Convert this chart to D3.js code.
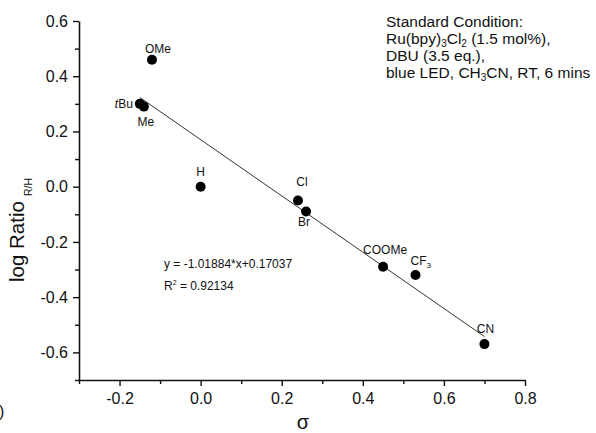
<!DOCTYPE html>
<html><head><meta charset="utf-8">
<script src="https://cdn.jsdelivr.net/npm/d3@7"></script>
<style>
html,body{margin:0;padding:0;background:#fff;}
svg{display:block;font-family:"Liberation Sans",Arial,sans-serif;}
</style></head>
<body>
<svg id="chart" width="596" height="433"></svg>
<script>
// ---- data ----
const substituents = ["OMe","tBu","Me","H","Cl","Br","COOMe","CF3","CN"];
const sigma        = [-0.12,-0.15,-0.14,0.00,0.24,0.26,0.45,0.53,0.70];
const logRatio     = [0.46,0.30,0.29,0.00,-0.05,-0.09,-0.29,-0.32,-0.57];
const fitSlope = -1.01884;
const fitIntercept = 0.17037;
const fitR2 = "0.92134";
const xMajorTicks = [-0.2,0.0,0.2,0.4,0.6,0.8];
const xMinorTicks = [-0.3,-0.1,0.1,0.3,0.5,0.7];
const yMajorTicks = [-0.6,-0.4,-0.2,0.0,0.2,0.4,0.6];
const yMinorTicks = [-0.7,-0.5,-0.3,-0.1,0.1,0.3,0.5];

// ---- layout (label offsets in px relative to each point) ----
const labelLayout = {
  OMe:{dx:6,dy:-7,anchor:"middle"},
  tBu:{dx:-7,dy:4,anchor:"end"},
  Me:{dx:2,dy:19,anchor:"middle"},
  H:{dx:0,dy:-11,anchor:"middle"},
  Cl:{dx:4,dy:-15,anchor:"middle"},
  Br:{dx:-2,dy:14,anchor:"middle"},
  COOMe:{dx:2,dy:-13,anchor:"middle"},
  CF3:{dx:-5,dy:-10,anchor:"start"},
  CN:{dx:1,dy:-11,anchor:"middle"}
};

const svg = d3.select("#chart");
const x = d3.scaleLinear().domain([-0.3,0.8]).range([79,525]);
const y = d3.scaleLinear().domain([-0.7,0.6]).range([380,21]);
const fmt = v => d3.format(".1f")(v).replace("\u2212","-");

// axes
const gx = svg.append("g").attr("transform","translate(0,380)");
gx.call(d3.axisBottom(x).tickValues(xMajorTicks).tickFormat(fmt).tickSize(6).tickPadding(7).tickSizeOuter(0));
gx.append("g").call(d3.axisBottom(x).tickValues(xMinorTicks).tickFormat("").tickSize(4).tickSizeOuter(0))
  .select(".domain").remove();
const gy = svg.append("g").attr("transform","translate(79,0)");
gy.call(d3.axisLeft(y).tickValues(yMajorTicks).tickFormat(fmt).tickSize(6).tickPadding(5).tickSizeOuter(0));
gy.append("g").call(d3.axisLeft(y).tickValues(yMinorTicks).tickFormat("").tickSize(4).tickSizeOuter(0))
  .select(".domain").remove();
svg.selectAll(".domain").attr("stroke","#111").attr("stroke-width",1.6);
svg.selectAll(".tick line").attr("stroke","#111").attr("stroke-width",1.4);
svg.selectAll(".tick text").attr("font-size",16).attr("fill","#111")
  .attr("font-family","'Liberation Sans',Arial,sans-serif");

// axis titles
const yt = svg.append("text").attr("transform","translate(24,282) rotate(-90)")
  .attr("font-size",20.5).attr("fill","#111");
yt.append("tspan").text("log Ratio");
yt.append("tspan").attr("font-size",10.5).attr("dx",5).attr("dy",8).text("R/H");
svg.append("text").attr("x",303).attr("y",429).attr("text-anchor","middle")
  .attr("font-size",20).attr("fill","#111").text("σ");

// fit line
const xFit = d3.extent(sigma);
svg.append("line")
  .attr("x1",x(xFit[0])).attr("y1",y(fitSlope*xFit[0]+fitIntercept))
  .attr("x2",x(xFit[1])).attr("y2",y(fitSlope*xFit[1]+fitIntercept))
  .attr("stroke","#333").attr("stroke-width",1);

// points
const pts = substituents.map((s,i)=>({name:s,sx:sigma[i],ly:logRatio[i]}));
svg.append("g").selectAll("circle").data(pts).join("circle")
  .attr("cx",d=>x(d.sx)).attr("cy",d=>y(d.ly)).attr("r",5).attr("fill","#000");

// point labels
const lbl = svg.append("g").attr("font-size",12).attr("fill","#111");
pts.forEach(d=>{
  const L = labelLayout[d.name];
  const t = lbl.append("text").attr("x",x(d.sx)+L.dx).attr("y",y(d.ly)+L.dy)
    .attr("text-anchor",L.anchor);
  if(d.name==="tBu"){
    t.append("tspan").attr("font-style","italic").text("t");
    t.append("tspan").text("Bu");
  } else if(d.name==="CF3"){
    t.append("tspan").text("CF");
    t.append("tspan").attr("font-size",8).attr("dy",3).text("3");
  } else {
    t.text(d.name);
  }
});

// equation
const eq = svg.append("g").attr("font-size",12).attr("fill","#111");
eq.append("text").attr("x",164).attr("y",268).text("y = " + fitSlope + "*x+" + fitIntercept);
const r2 = eq.append("text").attr("x",164).attr("y",290);
r2.append("tspan").text("R");
r2.append("tspan").attr("font-size",7).attr("dy",-5).text("2");
r2.append("tspan").attr("dy",5).text(" = " + fitR2);

// conditions annotation
const ann = svg.append("g").attr("font-size",15.5).attr("fill","#111");
const lines = [
  [["Standard Condition:",0]],
  [["Ru(bpy)",0],["3",1],["Cl",0],["2",1],[" (1.5 mol%),",0]],
  [["DBU (3.5 eq.),",0]],
  [["blue LED, CH",0],["3",1],["CN, RT, 6 mins",0]]
];
lines.forEach((parts,i)=>{
  const t = ann.append("text").attr("x",386).attr("y",27+17*i);
  let sub=false;
  parts.forEach(([s,isSub])=>{
    const ts = t.append("tspan").text(s);
    if(isSub && !sub){ ts.attr("font-size",10).attr("dy",2.5); sub=true; }
    else if(!isSub && sub){ ts.attr("dy",-2.5); sub=false; }
    else if(isSub){ ts.attr("font-size",10); }
  });
});

// cropped artifact at left edge
svg.append("text").attr("x",-1).attr("y",417).attr("font-size",16).attr("fill","#111").text(")");
</script>
</body></html>
